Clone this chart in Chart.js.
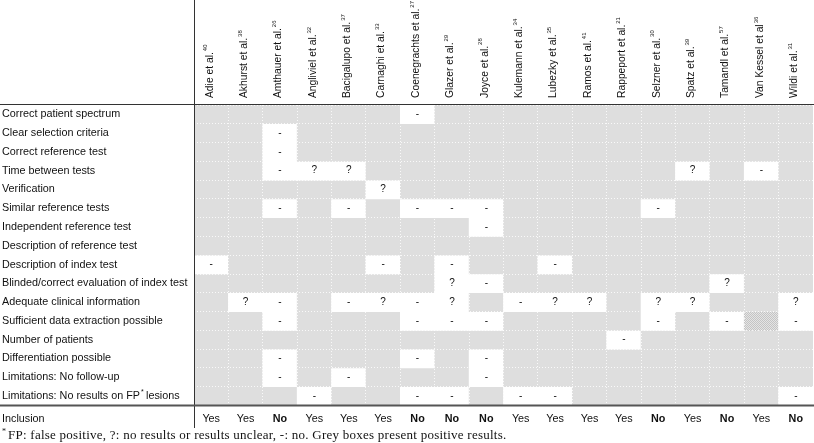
<!DOCTYPE html>
<html>
<head>
<meta charset="utf-8">
<script src="https://cdn.jsdelivr.net/npm/chart.js@4.4.1/dist/chart.umd.min.js"></script>
<style>
  html, body { margin: 0; padding: 0; background: #fff; }
  canvas { display: block; }
</style>
</head>
<body>
<canvas id="qualityChart" width="814" height="443"></canvas>
<script>
const studies = ['Adie et al.', 'Akhurst et al.', 'Amthauer et al.', 'Angliviel et al.', 'Bacigalupo et al.',
    'Carnaghi et al.', 'Coenegrachts et al.', 'Glazer et al.', 'Joyce et al.', 'Kulemann et al.',
    'Lubezky et al.', 'Ramos et al.', 'Rappeport et al.', 'Selzner et al.', 'Spatz et al.',
    'Tamandl et al.', 'Van Kessel et al', 'Wildi et al.'];
const refs = ['40', '38', '26', '32', '37', '33', '27', '29', '28', '34', '35', '41', '21', '30', '39', '57', '36', '31'];

const criteria = ['Correct patient spectrum', 'Clear selection criteria', 'Correct reference test',
    'Time between tests', 'Verification', 'Similar reference tests', 'Independent reference test',
    'Description of reference test', 'Description of index test', 'Blinded/correct evaluation of index test',
    'Adequate clinical information', 'Sufficient data extraction possible', 'Number of patients',
    'Differentiation possible', 'Limitations: No follow-up', 'Limitations: No results on FP  lesions'];

// one string per criterion, one character per study
// Y = positive (grey box), - = no, ? = no results / unclear, # = grey box (hatched)
const ratings = [
    'YYYYYY-YYYYYYYYYYY',
    'YY-YYYYYYYYYYYYYYY',
    'YY-YYYYYYYYYYYYYYY',
    'YY-??YYYYYYYYY?Y-Y',
    'YYYYY?YYYYYYYYYYYY',
    'YY-Y-Y---YYYY-YYYY',
    'YYYYYYYY-YYYYYYYYY',
    'YYYYYYYYYYYYYYYYYY',
    '-YYYY-Y-YY-YYYYYYY',
    'YYYYYYY?-YYYYYY?YY',
    'Y?-Y-?-?Y-??Y??YY?',
    'YY-YYY---YYYY-Y-#-',
    'YYYYYYYYYYYY-YYYYY',
    'YY-YYY-Y-YYYYYYYYY',
    'YY-Y-YYY-YYYYYYYYY',
    'YYY-YY--Y--YYYYYY-'
];

const inclusion = ['Yes', 'Yes', 'No', 'Yes', 'Yes', 'Yes', 'No', 'No', 'No', 'Yes',
    'Yes', 'Yes', 'Yes', 'No', 'Yes', 'No', 'Yes', 'No'];

const footnote = 'FP: false positive, ?: no results or results unclear, -: no. Grey boxes present positive results.';

const GREY = '#dedede';
const SANS = '"Liberation Sans", Arial, sans-serif';
const INK = '#111';

// small checker pattern for the odd hatched box
function hatch() {
    const c = document.createElement('canvas');
    c.width = 2; c.height = 2;
    const g = c.getContext('2d');
    g.fillStyle = '#e4e4e4'; g.fillRect(0, 0, 2, 2);
    g.fillStyle = '#c4c4c4'; g.fillRect(0, 0, 1, 1); g.fillRect(1, 1, 1, 1);
    return g.createPattern(c, 'repeat');
}
const hatchFill = hatch();

function cellColor(code) {
    if (code === 'Y') return GREY;
    if (code === '#') return hatchFill;
    return '#ffffff';
}

var datasets = criteria.map((label, r) => ({
    label: label,
    data: studies.map(() => [r, r + 1]),
    backgroundColor: ratings[r].split('').map(cellColor),
    borderWidth: 0,
    grouped: false,
    barPercentage: 1,
    categoryPercentage: 1
}));

const tablePlugin = {
    id: 'tableText',
    afterDatasetsDraw(chart) {
        const ctx = chart.ctx;
        const xs = chart.scales.x, ys = chart.scales.y;
        ctx.save();
        ctx.fillStyle = INK;
        ctx.font = '10px ' + SANS;
        ctx.textAlign = 'center';
        ctx.textBaseline = 'middle';
        ratings.forEach((row, r) => {
            row.split('').forEach((code, i) => {
                if (code === '-' || code === '?') {
                    ctx.fillText(code, xs.getPixelForValue(i), ys.getPixelForValue(r + 0.5));
                }
            });
        });
        ctx.restore();
    },
    afterDraw(chart) {
        const ctx = chart.ctx;
        const xs = chart.scales.x, ys = chart.scales.y;
        const area = chart.chartArea;
        ctx.save();

        // rules
        ctx.strokeStyle = '#333';
        ctx.lineWidth = 1;
        ctx.beginPath();
        ctx.moveTo(0, area.top - 0.5); ctx.lineTo(chart.width, area.top - 0.5);
        ctx.moveTo(area.left + 0.5, 0); ctx.lineTo(area.left + 0.5, area.bottom);
        ctx.stroke();
        ctx.strokeStyle = '#555';
        ctx.lineWidth = 2;
        ctx.beginPath();
        const yb = ys.getPixelForValue(16);
        ctx.moveTo(0, yb); ctx.lineTo(chart.width, yb);
        ctx.stroke();

        // study names, rotated, with reference superscripts
        ctx.fillStyle = INK;
        studies.forEach((name, i) => {
            const x = xs.getPixelForValue(i) - 1.5;
            ctx.save();
            ctx.translate(x, area.top - 7);
            ctx.rotate(-Math.PI / 2);
            ctx.textAlign = 'left';
            ctx.textBaseline = 'middle';
            ctx.font = '10.3px ' + SANS;
            ctx.fillText(name, 0, 0);
            const w = ctx.measureText(name).width;
            ctx.font = '6px ' + SANS;
            ctx.fillText(refs[i], w + 1, -4);
            ctx.restore();
        });

        // asterisk on the FP row label
        ctx.font = '10.8px ' + SANS;
        const fpw = ctx.measureText('Limitations: No results on FP').width;
        ctx.font = '7px ' + SANS;
        ctx.textAlign = 'left';
        ctx.textBaseline = 'middle';
        ctx.fillText('*', 2 + fpw + 1, ys.getPixelForValue(15.5) - 4);

        // inclusion row
        ctx.textAlign = 'center';
        const yi = ys.getPixelForValue(16.7);
        inclusion.forEach((v, i) => {
            ctx.font = (v === 'No' ? 'bold ' : '') + '10.8px ' + SANS;
            ctx.fillText(v, xs.getPixelForValue(i), yi);
        });

        // footnote
        ctx.textAlign = 'left';
        ctx.textBaseline = 'alphabetic';
        ctx.font = '8px "Liberation Serif", serif';
        ctx.fillText('*', 2, 434);
        ctx.font = '13px "Liberation Serif", serif';
        ctx.letterSpacing = '0.25px';
        ctx.fillText(footnote, 8, 439);
        ctx.restore();
    }
};

const rowCenters = criteria.map((c, r) => r + 0.5).concat([16.7]);
const rowLabels = criteria.concat(['Inclusion']);

const ctx1 = document.getElementById('qualityChart').getContext('2d');
var qualityChart = new Chart(ctx1, {
    type: 'bar',
    data: {
        labels: studies,
        datasets: datasets
    },
    options: {
        responsive: false,
        animation: false,
        layout: { padding: { left: 2, right: 1, top: 0, bottom: 15 } },
        plugins: { legend: { display: false }, tooltip: { enabled: false } },
        scales: {
            x: {
                type: 'category',
                position: 'top',
                offset: true,
                ticks: { display: false },
                grid: { offset: true, drawTicks: false, color: 'rgba(255,255,255,0.8)', z: 1 },
                border: { display: false, dash: [1, 2] },
                afterFit: (scale) => { scale.height = 105; }
            },
            y: {
                type: 'linear',
                position: 'left',
                reverse: true,
                min: 0,
                max: 17.2,
                afterBuildTicks: (scale) => {
                    scale.ticks = rowCenters.map(v => ({ value: v }));
                },
                ticks: {
                    autoSkip: false,
                    crossAlign: 'far',
                    padding: 0,
                    color: INK,
                    font: { family: SANS, size: 10.8 },
                    callback: (value, index) => rowLabels[index]
                },
                grid: { display: false },
                border: { display: false },
                afterFit: (scale) => { scale.width = 192; }
            },
            yGrid: {
                type: 'linear',
                position: 'left',
                reverse: true,
                min: 0,
                max: 17.2,
                afterBuildTicks: (scale) => {
                    scale.ticks = criteria.map((c, r) => ({ value: r })).concat([{ value: 16 }]);
                },
                ticks: { display: false },
                grid: { drawTicks: false, color: 'rgba(255,255,255,0.8)', z: 1 },
                border: { display: false, dash: [1, 2] },
                afterFit: (scale) => { scale.width = 0; }
            }
        }
    },
    plugins: [tablePlugin]
});
</script>
</body>
</html>
